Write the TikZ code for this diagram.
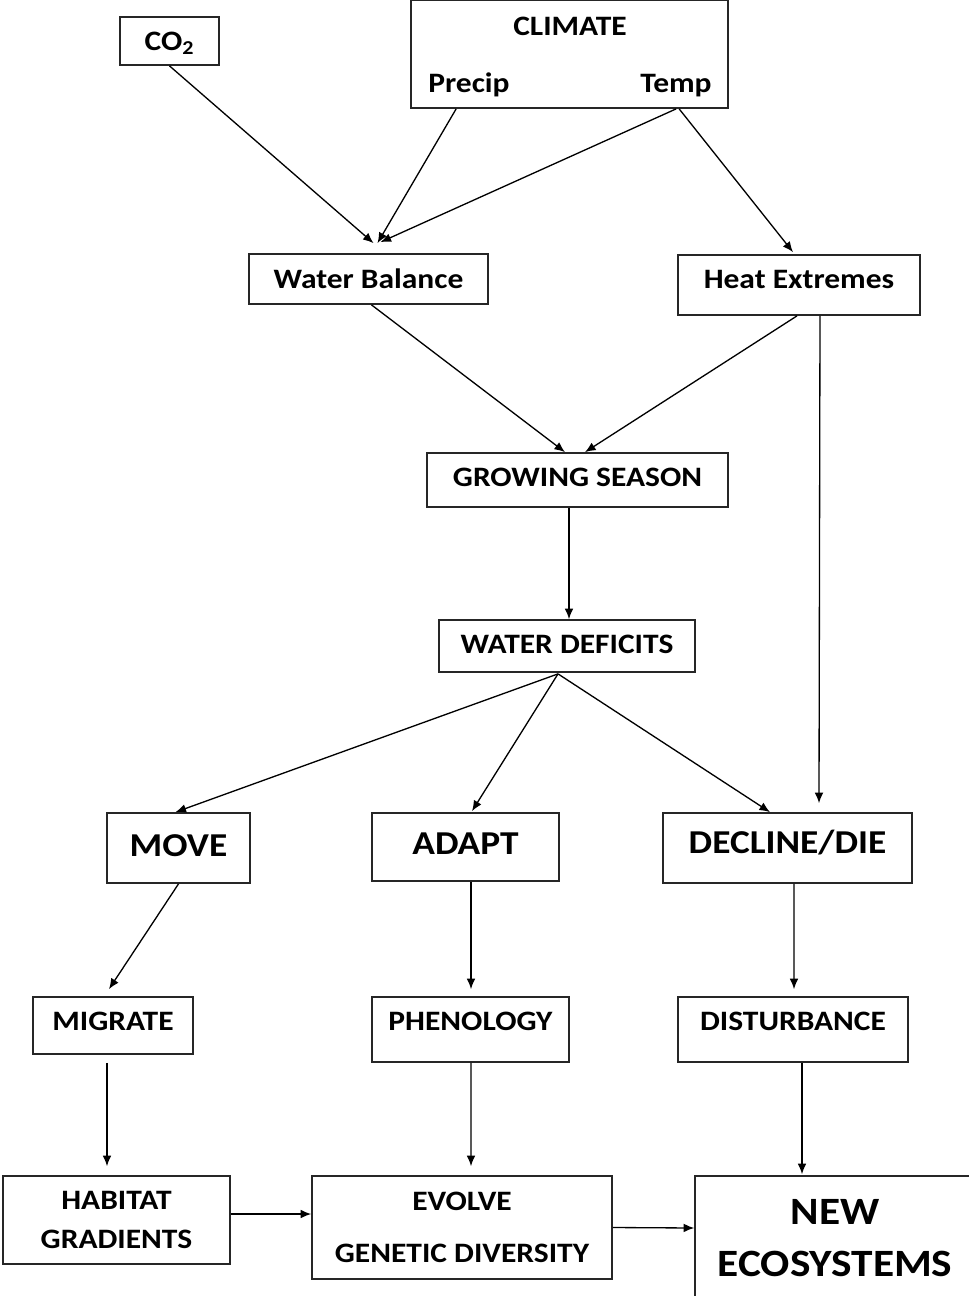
\documentclass[tikz,border=0pt]{standalone}
\usepackage{fontspec}
\newfontfamily\boxfont[FakeStretch=1.12]{Carlito}
\usetikzlibrary{arrows.meta,calc}

\begin{document}
\begin{tikzpicture}[x=0.02cm, y=-0.02cm, >={Latex[length=6pt,width=5pt]},
    txt/.style={inner sep=0pt, text height=10.5pt, text depth=#1,
      font=\boxfont\bfseries\fontsize{16}{19}\selectfont},
    txt/.default=0pt,
    box/.style={txt=#1, draw=black!85, line width=1pt},
    box/.default=0pt,
    big/.style={font=\boxfont\bfseries\fontsize{19}{23}\selectfont, text height=12.5pt},
    multi/.style={align=center, text height=, text depth=},
    link/.style={->, line width=0.75pt}]
  \useasboundingbox (0,0) rectangle (969,1296);
  \fill[white] (0,0) rectangle (969,1296);

  % drivers
  \node[box, minimum width=1.98cm, minimum height=0.96cm] (co2) at (169.5,41) {CO\textsubscript{2}};
  \node[box, minimum width=6.34cm, minimum height=2.16cm] (climate) at (569.5,54) {};
  \node[txt] (clim) at (570,26) {CLIMATE};
  \node[txt] (precip) at (469,83) {Precip};
  \node[txt] (temp) at (676,83) {Temp};

  \node[box, minimum width=4.78cm, minimum height=1.0cm] (wb) at (368.5,279) {Water Balance};
  \node[box=6.8pt, minimum width=4.84cm, minimum height=1.2cm] (heat) at (799,285) {Heat Extremes};
  \node[box=3.4pt, minimum width=6.02cm, minimum height=1.08cm] (gs) at (577.5,480) {GROWING SEASON};
  \node[box=2.3pt, minimum width=5.12cm, minimum height=1.04cm] (wd) at (567,646) {WATER DEFICITS};

  % responses
  \node[box=3.4pt, big, minimum width=2.86cm, minimum height=1.4cm] (move) at (178.5,848) {MOVE};
  \node[box=4.5pt, big, minimum width=3.74cm, minimum height=1.36cm] (adapt) at (465.5,847) {ADAPT};
  \node[box=5.7pt, big, minimum width=4.98cm, minimum height=1.4cm] (decline) at (787.5,848) {DECLINE/DIE};

  \node[box=5.1pt, minimum width=3.2cm, minimum height=1.14cm] (migrate) at (113,1025.5) {MIGRATE};
  \node[box=9.6pt, minimum width=3.94cm, minimum height=1.3cm] (phen) at (470.5,1029.5) {PHENOLOGY};
  \node[box=9.6pt, minimum width=4.6cm, minimum height=1.3cm] (dist) at (793,1029.5) {DISTURBANCE};

  \node[box, multi, minimum width=4.54cm, minimum height=1.76cm] (habitat) at (116.5,1220) {HABITAT\\[3pt]GRADIENTS};
  \node[box, multi, minimum width=6.0cm, minimum height=2.06cm] (evolve) at (462,1227.5) {EVOLVE\\[10.5pt]GENETIC DIVERSITY};
  \node[box, multi, font=\boxfont\bfseries\fontsize{22}{26}\selectfont, minimum width=5.6cm, minimum height=2.48cm] (neweco) at (835,1238) {NEW\\[4pt]ECOSYSTEMS};

  % connectors
  \coordinate (fan) at ($(wd.south)+(-9,1)$);
  \draw[link] (co2.south) -- ($(wb.north)+(5,-10)$);
  \draw[link] ($(climate.south west)+(46,0)$) -- ($(wb.north)+(9,-10)$);
  \draw[link] ($(climate.south west)+(266,0)$) -- ($(wb.north)+(12,-11)$);
  \draw[link] ($(climate.south west)+(269,0)$) -- ($(heat.north)+(-6,-2)$);
  \draw[link] ($(wb.south)+(3,0)$) -- ($(gs.north)+(-12.5,0)$);
  \draw[link] ($(heat.south)+(-2,0)$) -- ($(gs.north)+(7.5,0)$);
  \draw[link] ($(heat.south)+(21,0)$) -- ($(decline.north)+(31.5,-9)$);
  \draw[link] ($(gs.south)+(-8.5,0)$) -- ($(wd.north)+(2,0)$);
  \draw[link] (fan) -- ($(move.north)+(-3,0)$);
  \draw[link] (fan) -- ($(adapt.north)+(6.5,-1)$);
  \draw[link] (fan) -- ($(decline.north)+(-17.5,0)$);
  \draw[link] (move.south) -- ($(migrate.north)+(-4,-7)$);
  \draw[link] ($(adapt.south)+(5.5,0)$) -- ($(phen.north)+(0.5,-7)$);
  \draw[link] ($(decline.south)+(6.5,0)$) -- ($(dist.north)+(1,-7)$);
  \draw[link] ($(migrate.south)+(-6,8)$) -- ($(habitat.north)+(-9.5,-9)$);
  \draw[link] ($(phen.south)+(0.5,0)$) -- ($(evolve.north)+(9,-9)$);
  \draw[link] ($(dist.south)+(9,0)$) -- ($(neweco.north)+(-33,-1)$);
  \draw[link] ($(habitat.east)+(0,-6)$) -- ($(evolve.west)+(0,-13.5)$);
  \draw[link] (evolve.east) -- ($(neweco.west)+(0,-10)$);
\end{tikzpicture}
\end{document}
